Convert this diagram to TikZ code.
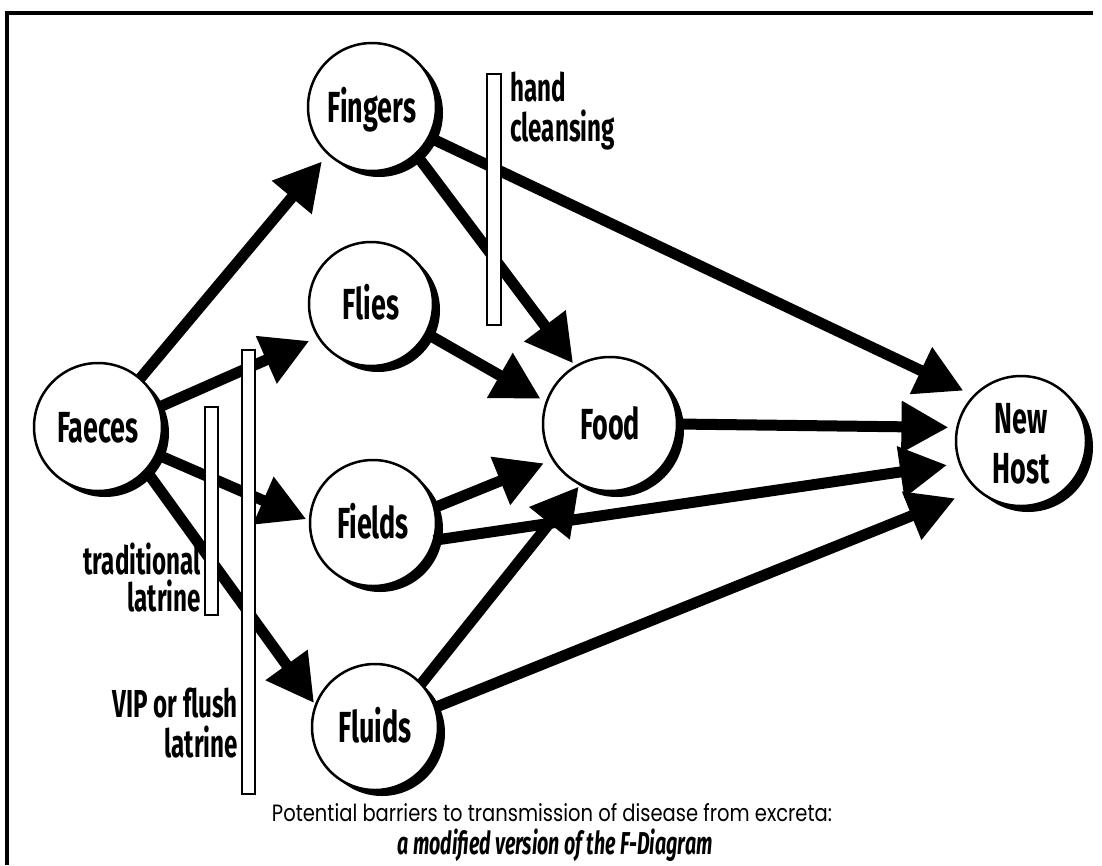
\documentclass[tikz,border=0pt]{standalone}
\usepackage{fontspec}
\usetikzlibrary{arrows.meta,shadows}
\newfontfamily\cond[FakeStretch=0.62]{Fira Sans}
\newfontfamily\capfont{Poppins}
\begin{document}
\begin{tikzpicture}[x=1pt,y=-1pt,
  fnode/.style={circle, draw, line width=2.5pt, fill=white, minimum size=#1,
    inner sep=0pt, outer sep=0pt,
    drop shadow={shadow xshift=7pt, shadow yshift=-6pt, opacity=1, fill=black}},
  lbl/.style={font=\cond\bfseries\fontsize{43.5}{50}\selectfont, inner sep=0pt,
    text height=30pt, text depth=0pt},
  blbl/.style={font=\cond\bfseries\fontsize{39}{44}\selectfont, inner sep=0pt},
  flow/.style={line width=11pt, -{Triangle[length=47pt,width=49pt]}},
  barbox/.style={draw, fill=white, line width=2pt, inner sep=0pt},
  frame/.style={line width=3.5pt}
]
\useasboundingbox (0,0) rectangle (1102,865);
% frame
\coordinate (ftl) at (7,13);
\coordinate (ftr) at (1093,13);
\coordinate (fbl) at (7,865);
\draw[frame] (ftr) -- (ftl) -- (fbl);

% nodes
\node[fnode=128pt] (faeces) at (98,427) {};
\node[fnode=128pt] (fingers) at (372,107) {};
\node[fnode=124pt] (flies) at (371,304) {};
\node[fnode=126pt] (fields) at (373,523) {};
\node[fnode=126pt] (fluids) at (375,727) {};
\node[fnode=134pt] (food) at (610,424) {};
\node[fnode=130pt] (newhost) at (1021,441) {};

\node[lbl] (tfaeces) at (faeces) {Faeces};
\node[lbl] (tfingers) at (fingers) {Fingers};
\node[lbl] (tflies) at (flies) {Flies};
\node[lbl] (tfields) at (fields) {Fields};
\node[lbl] (tfluids) at (fluids) {Fluids};
\node[lbl] (tfood) at (food) {Food};
\node[lbl] (tnew) at ([yshift=23pt]newhost.center) {New};
\node[lbl] (thost) at ([yshift=-27pt]newhost.center) {Host};

% connectors
\draw[flow, shorten >=10pt] (faeces.49) -- (fingers.227);
\draw[flow, shorten >=10pt] (faeces.18) -- (flies.212);
\draw[flow, shorten >=4pt] (faeces.-25) -- (fields.178);
\draw[flow, shorten >=3pt] (faeces.-42) -- (fluids.160);
\draw[flow, shorten >=4pt] (fingers.-47) -- (food.121);
\draw[flow, shorten >=12pt] (fingers.-28) -- (newhost.136.6);
\draw[flow, shorten >=7pt] (flies.-28) -- (food.161);
\draw[flow, shorten >=9pt] (food.0) -- (newhost.168.4);
\draw[flow, shorten >=10pt] (fields.14) -- (food.212);
\draw[flow, shorten >=13pt] (fields.-16) -- (newhost.200.3);
\draw[flow, shorten >=3pt] (fluids.43) -- (food.244.5);
\draw[flow, shorten >=24pt] (fluids.18) -- (newhost.228.6);

% barriers
\node[barbox, minimum width=14pt, minimum height=251pt] (handbar) at (494,199.5) {};
\node[barbox, minimum width=13pt, minimum height=444pt] (vipbar) at (248.5,572) {};
\node[barbox, minimum width=13pt, minimum height=208pt] (tradbar) at (211.5,511) {};

\node[blbl, anchor=base west] (hand1) at (510,101) {hand};
\node[blbl, anchor=base west] (hand2) at (510,141) {cleansing};
\node[blbl, anchor=base east] (trad1) at (201,574) {traditional};
\node[blbl, anchor=base east] (trad2) at (201,611) {latrine};
\node[blbl, anchor=base east] (vip1) at (238,717) {VIP or flush};
\node[blbl, anchor=base east] (vip2) at (238,757) {latrine};

% caption
\node[inner sep=0pt, anchor=base] (cap1) at (552,821)
  {\resizebox{560pt}{18pt}{\capfont Potential barriers to transmission of disease from excreta:}};
\node[inner sep=0pt, anchor=base] (cap2) at (555,854)
  {\resizebox{315pt}{!}{\cond\bfseries\itshape a modified version of the F-Diagram}};
\end{tikzpicture}
\end{document}
